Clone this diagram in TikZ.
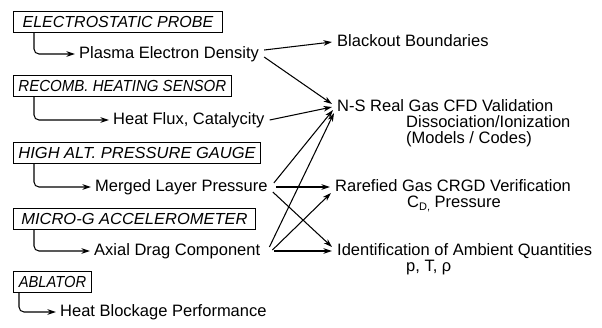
\documentclass[tikz,border=0pt]{standalone}
\usepackage{fontspec}
\setmainfont{Liberation Sans}
\usetikzlibrary{arrows.meta,calc}
\tikzset{
  instbox/.style={draw, line width=0.9pt, anchor=west, inner xsep=5pt, inner ysep=0pt,
    minimum height=21pt, text height=11.5pt, text depth=0pt, font=\fontsize{16}{18}\selectfont\itshape},
  meas/.style={anchor=west, inner sep=0pt, text height=11.5pt, text depth=3.5pt, font=\fontsize{16.5}{18}\selectfont},
  res/.style={anchor=west, inner sep=0pt, text height=11.5pt, text depth=3.5pt, font=\fontsize{16.5}{18}\selectfont},
  arr/.style={-{Stealth[length=8.5pt,width=5.5pt,inset=2.5pt]}, line width=1.05pt},
  elbow/.style={arr, rounded corners=5pt}
}
\begin{document}
\begin{tikzpicture}[x=1pt,y=-1pt]
\useasboundingbox (0,0) rectangle (602,327);
% instruments
\node[instbox, minimum width=209pt] (b1) at (13,22) {ELECTROSTATIC PROBE};
\node[instbox, minimum width=215pt] (b2) at (13,86) {\scalebox{0.94}[1]{RECOMB. HEATING SENSOR}};
\node[instbox, minimum width=246pt] (b3) at (13,153) {\scalebox{1.03}[1]{HIGH ALT. PRESSURE GAUGE}};
\node[instbox, minimum width=242pt] (b4) at (13,219) {\scalebox{1.03}[1]{MICRO-G ACCELEROMETER}};
\node[instbox, minimum width=78pt] (b5) at (13,282) {\scalebox{0.92}[1]{ABLATOR}};
% measurements
\node[meas] (m1) at (79,54) {Plasma Electron Density};
\node[meas] (m2) at (113,120) {Heat Flux, Catalycity};
\node[meas] (m3) at (95,187) {Merged Layer Pressure};
\node[meas] (m4) at (94,251) {Axial Drag Component};
\node[meas] (m5) at (60,312) {Heat Blockage Performance};
% results
\node[res] (r1) at (337,42) {Blackout Boundaries};
\node[res] (r2) at (337,107) {N-S Real Gas CFD Validation};
\node[res] (r2b) at (406,123) {Dissociation/Ionization};
\node[res] (r2c) at (406,139) {(Models / Codes)};
\node[res] (r3) at (335,187) {Rarefied Gas CRGD Verification};
\node[res] (r3b) at (407,203) {C\raisebox{-3pt}{\fontsize{11}{11}\selectfont D,} Pressure};
\node[res] (r4) at (337,251) {Identification of Ambient Quantities};
\node[res] (r4b) at (406,267) {p, T, ρ};
% elbows
\draw[elbow] ([xshift=21pt]b1.south west) |- ([xshift=-4pt]m1.west);
\draw[elbow] ([xshift=21pt]b2.south west) |- ([xshift=-4pt]m2.west);
\draw[elbow] ([xshift=21pt]b3.south west) |- ([xshift=-4pt]m3.west);
\draw[elbow] ([xshift=21pt]b4.south west) |- ([xshift=-4pt]m4.west);
\draw[elbow] ([xshift=6pt]b5.south west) |- ([xshift=-4pt]m5.west);
% result arrows
\draw[arr] ([xshift=5pt,yshift=4pt]m1.east) -- ([xshift=-5pt]r1.west);
\draw[arr] ([xshift=5pt,yshift=-3pt]m1.east) -- ([xshift=-5pt,yshift=3pt]r2.west);
\draw[arr] ([xshift=5pt]m2.east) -- ([xshift=-5pt]r2.west);
\draw[arr] ([xshift=6pt,yshift=4pt]m3.east) -- ([xshift=-4pt,yshift=-3pt]r2.west);
\draw[arr] ([xshift=9pt,yshift=4pt]m4.east) -- ([xshift=-3pt,yshift=-6pt]r2.west);
\draw[arr] ([xshift=8pt]m3.east) -- ([xshift=-5pt]r3.west);
\draw[arr] ([xshift=5pt,yshift=-5pt]m3.east) -- ([xshift=-5pt,yshift=4pt]r4.west);
\draw[arr] ([xshift=12pt,yshift=1pt]m4.east) -- ([xshift=-4pt,yshift=-6pt]r3.west);
\draw[arr] ([xshift=14pt]m4.east) -- ([xshift=-5pt]r4.west);
\end{tikzpicture}
\end{document}
